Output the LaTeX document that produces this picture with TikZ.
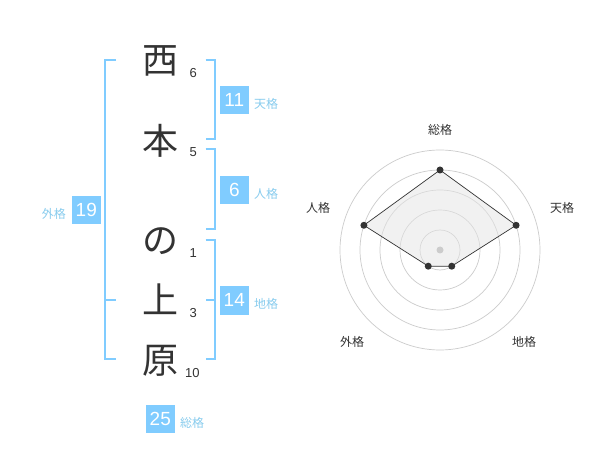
\documentclass[tikz,border=0pt]{standalone}
\usepackage{fontspec}
\setmainfont{Liberation Sans}
\newfontfamily\cjk{Noto Sans CJK JP}
\definecolor{kblue}{RGB}{128,204,255}
\definecolor{klabel}{RGB}{136,204,238}
\definecolor{kdark}{RGB}{51,51,51}
\definecolor{kring}{RGB}{204,204,204}
\begin{document}
\begin{tikzpicture}[x=1pt,y=-1pt,
  bigchar/.style={font=\cjk\fontsize{36}{36}\selectfont, text=kdark, inner sep=0pt},
  strokes/.style={font=\fontsize{13}{13}\selectfont, text=kdark, inner sep=0pt},
  kbox/.style={fill=kblue, text=white, minimum width=28.7pt, minimum height=28.5pt, inner sep=0pt, font=\fontsize{19}{19}\selectfont},
  klab/.style={text=klabel, font=\cjk\fontsize{12}{12}\selectfont, inner sep=0pt, anchor=west},
  bracket/.style={draw=kblue, line width=2pt},
  radarlab/.style={text=kdark, font=\cjk\fontsize{12}{12}\selectfont, inner sep=0pt},
  ring/.style={draw=kring, line width=0.7pt},
  rdot/.style={circle, fill=kdark, minimum size=7pt, inner sep=0pt},
  cdot/.style={circle, fill=kring, minimum size=7pt, inner sep=0pt}]
\useasboundingbox (0,0) rectangle (600,470);
\fill[white] (0,0) rectangle (600,470);

% name characters
\node[bigchar] (c1) at (160,60.5) {西};
\node[bigchar] (c2) at (160,141) {本};
\node[bigchar] (c3) at (160,241) {の};
\node[bigchar] (c4) at (160,299.5) {上};
\node[bigchar] (c5) at (160,361) {原};

% stroke counts
\node[strokes] (s1) at (193.3,72.7) {6};
\node[strokes] (s2) at (193.3,152.5) {5};
\node[strokes] (s3) at (193.3,252.7) {1};
\node[strokes] (s4) at (193.3,313.3) {3};
\node[strokes] (s5) at (192.3,373.3) {10};

% brackets
\coordinate (g1) at (116,60);
\coordinate (g2) at (116,359.5);
\coordinate (g3) at (116,300);
\draw[bracket] (g1) -- (105,60) -- (105,359.5) -- (g2);
\draw[bracket] (105,300) -- (g3);

\coordinate (t1) at (205.7,60);
\coordinate (t2) at (205.7,139.5);
\draw[bracket] (t1) -- (214.5,60) -- (214.5,139.5) -- (t2);

\coordinate (j1) at (205.7,149.5);
\coordinate (j2) at (205.7,229.5);
\draw[bracket] (j1) -- (214.5,149.5) -- (214.5,229.5) -- (j2);

\coordinate (d1) at (205.7,240);
\coordinate (d2) at (205.7,359.5);
\coordinate (d3) at (205.7,300);
\draw[bracket] (d1) -- (214.5,240) -- (214.5,359.5) -- (d2);
\draw[bracket] (214.5,300) -- (d3);

% value boxes
\node[kbox] (b11) at (234.3,100) {11};
\node[klab] (l11) at (254,104) {天格};
\node[kbox] (b6) at (234.3,190) {6};
\node[klab] (l6) at (254,194) {人格};
\node[kbox] (b19) at (86.3,210) {19};
\node[klab] (l19) at (41.7,214) {外格};
\node[kbox] (b14) at (234.3,300.3) {14};
\node[klab] (l14) at (254,304) {地格};
\node[kbox] (b25) at (160.3,419) {25};
\node[klab] (l25) at (180,422.7) {総格};

% radar chart
\begin{scope}[shift={(440,250)}]
  \foreach \r in {20,40,60,80,100} \draw[ring] (0,0) circle[radius=\r];
  \coordinate (pso) at (-90:80);
  \coordinate (pten) at (-18:80);
  \coordinate (pchi) at (54:20);
  \coordinate (pgai) at (126:20);
  \coordinate (pjin) at (198:80);
  \fill[gray!20, fill opacity=0.5] (pso) -- (pten) -- (pchi) -- (pgai) -- (pjin) -- cycle;
  \draw[kdark, line width=0.7pt] (pso) -- (pten) -- (pchi) -- (pgai) -- (pjin) -- cycle;
  \node[rdot] (dso) at (pso) {};
  \node[rdot] (dten) at (pten) {};
  \node[rdot] (dchi) at (pchi) {};
  \node[rdot] (dgai) at (pgai) {};
  \node[rdot] (djin) at (pjin) {};
  \node[cdot] (ctr) at (0,0) {};
\end{scope}
\node[radarlab] (rso) at (440,130) {総格};
\node[radarlab] (rten) at (562,208) {天格};
\node[radarlab] (rjin) at (318,208) {人格};
\node[radarlab] (rgai) at (352,342) {外格};
\node[radarlab] (rchi) at (524,342) {地格};
\end{tikzpicture}
\end{document}
